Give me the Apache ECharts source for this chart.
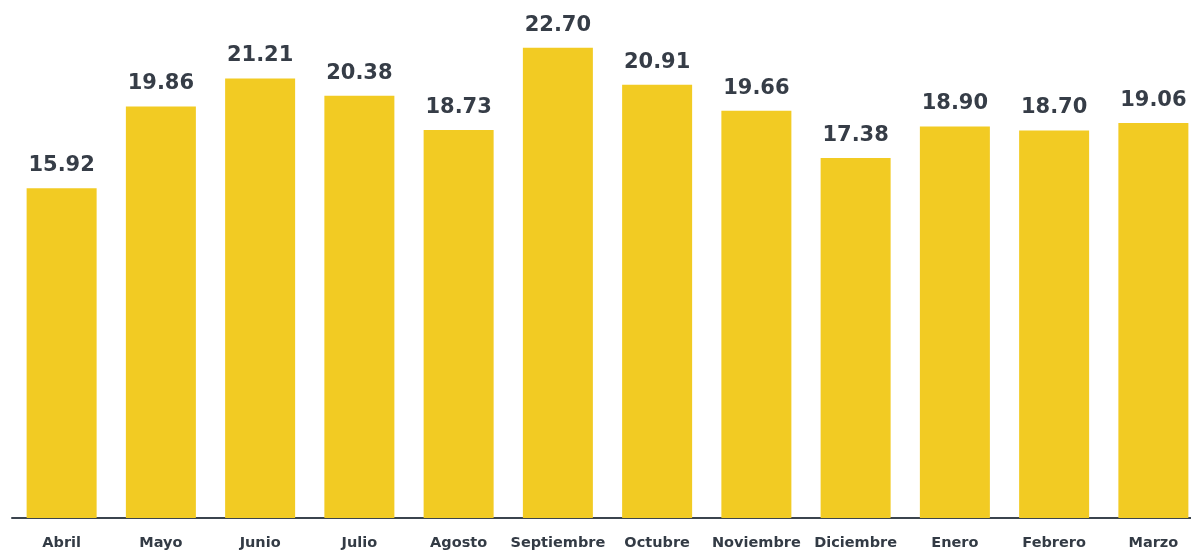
<!DOCTYPE html>
<html>
<head>
<meta charset="utf-8">
<script src="https://cdn.jsdelivr.net/npm/echarts@6/dist/echarts.min.js"></script>
<style>
  html, body { margin: 0; padding: 0; background: #fff; }
  #container { width: 1191px; height: 553px; }
</style>
</head>
<body>
<div id="container"></div>
<script>
  // meses y valores
  var months = ['Abril', 'Mayo', 'Junio', 'Julio', 'Agosto', 'Septiembre', 'Octubre', 'Noviembre', 'Diciembre', 'Enero', 'Febrero', 'Marzo'];
  var values = [15.92, 19.86, 21.21, 20.38, 18.73, 22.70, 20.91, 19.66, 17.38, 18.90, 18.70, 19.06];

  var myChart = echarts.init(document.getElementById('container'));
  var option = {
    animation: false,
    grid: {
      top: 0,
      left: 12,
      width: 1191,
      bottom: 35,
      outerBoundsMode: 'none',
      containLabel: false
    },
    xAxis: {
      type: 'category',
      data: months,
      axisTick: { show: false },
      axisLine: {
        lineStyle: { color: '#3b444e', width: 2 }
      },
      axisLabel: {
        interval: 0,
        margin: 18,
        color: '#333b45',
        fontFamily: 'DejaVu Sans',
        fontWeight: 'bold',
        fontSize: 14.5
      }
    },
    yAxis: {
      type: 'value',
      min: 0,
      max: 25,
      show: false
    },
    series: [{
      type: 'bar',
      data: values,
      barWidth: 70,
      itemStyle: { color: '#f2cb23' },
      label: {
        show: true,
        position: 'top',
        distance: 12,
        color: '#363d47',
        fontFamily: 'DejaVu Sans',
        fontWeight: 'bold',
        fontSize: 21,
        formatter: function (p) { return p.value.toFixed(2); }
      }
    }]
  };
  myChart.setOption(option);
</script>
</body>
</html>
